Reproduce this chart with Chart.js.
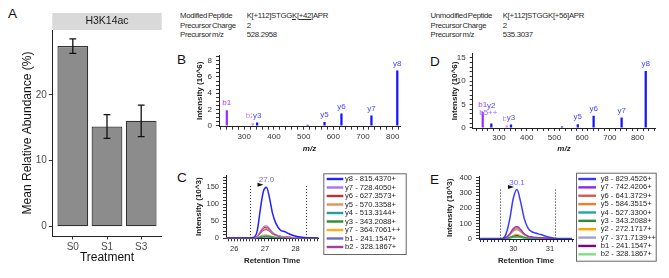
<!DOCTYPE html>
<html><head><meta charset="utf-8">
<script src="https://cdn.jsdelivr.net/npm/chart.js@4.4.1/dist/chart.umd.min.js"></script>
<style>
html,body{margin:0;padding:0;background:#fff;}
body{width:669px;height:278px;position:relative;overflow:hidden;font-family:'Liberation Sans',Arial,sans-serif;}
canvas{position:absolute;display:block;}
.hd{position:absolute;white-space:nowrap;font-size:7.8px;letter-spacing:-0.3px;word-spacing:-1px;color:#2a2a2a;line-height:1;}
.pl{position:absolute;font-size:13.5px;color:#111;line-height:1;}
u{text-decoration:underline;text-underline-offset:1px;}
</style></head><body>
<div class="pl" style="left:8px;top:7px">A</div>
<div class="pl" style="left:177px;top:53px">B</div>
<div class="pl" style="left:177px;top:171px">C</div>
<div class="pl" style="left:430px;top:54.5px">D</div>
<div class="pl" style="left:430px;top:172.5px">E</div>

<div class="hd" style="left:180px;top:11.6px">Modified Peptide</div>
<div class="hd" style="left:180px;top:21.6px">Precursor Charge</div>
<div class="hd" style="left:180px;top:30.6px">Precursor m/z</div>
<div class="hd" style="left:246.7px;top:11.6px">K[+112]STGG<u>K[+42]</u>APR</div>
<div class="hd" style="left:246.7px;top:21.6px">2</div>
<div class="hd" style="left:246.7px;top:30.6px">528.2958</div>

<div class="hd" style="left:430.5px;top:11.6px">Unmodified Peptide</div>
<div class="hd" style="left:430.5px;top:21.6px">Precursor Charge</div>
<div class="hd" style="left:430.5px;top:30.6px">Precursor m/z</div>
<div class="hd" style="left:502.7px;top:11.6px">K[+112]STGGK[+56]APR</div>
<div class="hd" style="left:502.7px;top:21.6px">2</div>
<div class="hd" style="left:502.7px;top:30.6px">535.3037</div>

<canvas id="cA" width="170" height="278" style="left:0px;top:0px;width:170px;height:278px"></canvas>
<canvas id="cB" width="230" height="112" style="left:175px;top:45px;width:230px;height:112px"></canvas>
<canvas id="cD" width="225" height="112" style="left:440px;top:45px;width:225px;height:112px"></canvas>
<canvas id="cC" width="235" height="110" style="left:175px;top:165px;width:235px;height:110px"></canvas>
<canvas id="cE" width="235" height="110" style="left:430px;top:165px;width:235px;height:110px"></canvas>

<script>
// ---------------- DATA ----------------
const treatments = ['S0', 'S1', 'S3'];
const abundance = [27.4, 15.2, 16.05];
const abundanceErr = [1.1, 1.8, 2.4];

const specB_mz  = [241.15, 328.19, 343.21, 513.31, 570.34, 627.36, 728.41, 815.44];
const specB_int = [1.85, 0.25, 0.35, 0.06, 0.4, 1.45, 1.2, 6.75];
const specB_ion = ['b1', 'b2', 'y3', 'y4', 'y5', 'y6', 'y7', 'y8'];
const specB_labels = ['b1', 'b2', 'y3', 'y5', 'y6', 'y7', 'y8'];
const specB_labelPeak = [0, 1, 2, 4, 5, 6, 7];

const specD_mz  = [241.15, 272.17, 328.19, 343.21, 527.33, 584.35, 641.37, 742.42, 829.45];
const specD_int = [3.3, 0.85, 0.4, 0.6, 0.2, 0.65, 2.5, 2.1, 12.1];
const specD_ion = ['b1', 'y2', 'b2', 'y3', 'y4', 'y5', 'y6', 'y7', 'y8'];
const specD_labels = ['b1', 'y2', 'b5++', 'b2', 'y3', 'y5', 'y6', 'y7', 'y8'];
const specD_labelPeak = [0, 1, 1, 2, 3, 5, 6, 7, 8];

const cTimes = [25.75, 26.5, 26.65, 26.75, 26.85, 26.95, 27.05, 27.15, 27.25, 27.35, 27.5, 27.65, 27.8, 27.95, 28.15, 28.4, 28.75];
const cIons = ['y8', 'y7', 'y6', 'y5', 'y4', 'y3', 'y7', 'b1', 'b2'];
const cMz = ['815.4370+', '728.4050+', '627.3573+', '570.3358+', '513.3144+', '343.2088+', '364.7061++', '241.1547+', '328.1867+'];
const cY8  = [0.5, 0.5, 3, 22, 85, 138, 150, 118, 72, 45, 24, 19, 12, 7, 3, 1, 0.5];
const cY7  = [0.2, 0.2, 0.7, 5.3, 20, 33, 36, 28, 17, 11, 5.8, 4.5, 2.9, 1.7, 0.7, 0.3, 0.2];
const cY6  = [0.2, 0.2, 0.6, 4.7, 18, 29.5, 32, 25, 15.5, 9.6, 5.1, 4, 2.6, 1.5, 0.6, 0.2, 0.2];
const cY5  = [0.2, 0.2, 0.5, 4.1, 15.8, 25.7, 28, 22, 13.4, 8.4, 4.5, 3.5, 2.2, 1.3, 0.6, 0.2, 0.2];
const cY4  = [0.1, 0.1, 0.1, 1, 4, 6.4, 7, 5.5, 3.4, 2.1, 1.1, 0.9, 0.6, 0.3, 0.1, 0, 0];
const cY3  = [0, 0, 0.1, 0.7, 2.5, 4.1, 4.5, 3.5, 2.2, 1.4, 0.7, 0.6, 0.4, 0.2, 0.1, 0, 0];
const cY7b = [0.1, 0.1, 0.2, 1.5, 5.7, 9.2, 10, 7.9, 4.8, 3, 1.6, 1.3, 0.8, 0.5, 0.2, 0.1, 0.1];
const cB1  = [0, 0, 0.1, 0.4, 1.7, 2.8, 3, 2.4, 1.4, 0.9, 0.5, 0.4, 0.2, 0.1, 0.1, 0, 0];
const cB2  = [0.2, 0.2, 0.5, 3.7, 14, 23, 25, 19.7, 12, 7.5, 4, 3.2, 2, 1.2, 0.5, 0.2, 0.2];
const cBounds = [26.52, 28.33];
const cPeakLabel = '27.0';

const eTimes = [29.1, 29.6, 29.72, 29.8, 29.9, 30.0, 30.1, 30.2, 30.3, 30.4, 30.5, 30.6, 30.75, 30.9, 31.05, 31.2, 31.6];
const eIons = ['y8', 'y7', 'y6', 'y5', 'y4', 'y3', 'y2', 'y7', 'b1', 'b2'];
const eMz = ['829.4526+', '742.4206+', '641.3729+', '584.3515+', '527.3300+', '343.2088+', '272.1717+', '371.7139++', '241.1547+', '328.1867+'];
const eY8  = [1, 1, 3, 30, 125, 265, 322, 240, 130, 70, 46, 37, 27, 15, 6, 2, 1];
const eY7  = [0.3, 0.3, 0.8, 7.6, 32, 67, 82, 61, 33, 18, 11.7, 9.4, 6.9, 3.8, 1.5, 0.5, 0.3];
const eY6  = [0.3, 0.3, 0.7, 7, 29, 62, 75, 56, 30, 16.3, 10.7, 8.6, 6.3, 3.5, 1.4, 0.5, 0.3];
const eY5  = [0.2, 0.2, 0.6, 6.1, 25.6, 54, 66, 49, 26.6, 14.3, 9.4, 7.6, 5.5, 3.1, 1.2, 0.4, 0.2];
const eY4  = [0.1, 0.1, 0.1, 1.1, 4.7, 9.9, 12, 9, 4.8, 2.6, 1.7, 1.4, 1, 0.6, 0.2, 0.1, 0.1];
const eY3  = [0.1, 0.1, 0.2, 1.7, 7, 14.8, 18, 13.4, 7.3, 3.9, 2.6, 2.1, 1.5, 0.8, 0.3, 0.1, 0.1];
const eY2  = [0.1, 0.1, 0.3, 2.6, 10.9, 23, 28, 20.9, 11.3, 6.1, 4, 3.2, 2.3, 1.3, 0.5, 0.2, 0.1];
const eY7b = [0.2, 0.2, 0.5, 5.4, 22.5, 47.7, 58, 43.2, 23.4, 12.6, 8.3, 6.7, 4.9, 2.7, 1.1, 0.4, 0.2];
const eB1  = [0.1, 0.1, 0.2, 2, 8.5, 18, 22, 16.4, 8.9, 4.8, 3.2, 2.5, 1.8, 1, 0.4, 0.1, 0.1];
const eB2  = [0, 0, 0.1, 0.7, 3.1, 6.6, 8, 6, 3.2, 1.7, 1.2, 0.9, 0.7, 0.4, 0.2, 0, 0];
const eBounds = [29.65, 31.13];
const ePeakLabel = '30.1';

// ---------------- STYLE / HELPERS ----------------
const FAM = "'Liberation Sans', Arial, sans-serif";
Chart.defaults.font.family = FAM;
Chart.defaults.color = '#333';
const isMult = (v, m) => Math.abs(v / m - Math.round(v / m)) < 1e-6;

function linAxis(o) {
  return {
    type: 'linear', min: o.min, max: o.max, offset: false,
    afterFit: s => { if (o.horizontal) s.height = o.size; else s.width = o.size; },
    ticks: {
      stepSize: o.minor, includeBounds: false, autoSkip: false, maxRotation: 0, minRotation: 0,
      padding: o.tickPad, color: o.labelColor || '#333', font: { size: o.labelSize },
      callback: o.cb || (v => isMult(v, o.major) ? String(Math.round(v)) : '')
    },
    grid: { display: true, offset: false, drawOnChartArea: false, drawTicks: true, tickLength: o.tickLen, color: '#333', lineWidth: 1 },
    border: { display: true, color: '#222', width: 1 },
    title: { display: true, text: o.title, font: o.titleFont, color: o.titleColor || '#222', padding: o.titlePad }
  };
}

const errorBarPlugin = {
  id: 'errorBars',
  afterDatasetsDraw(chart, args, opts) {
    const { ctx, scales: { x, y } } = chart;
    const d = chart.data.datasets[0].data;
    ctx.save(); ctx.strokeStyle = '#111'; ctx.lineWidth = 1.3;
    d.forEach((p, i) => {
      const xc = x.getPixelForValue(p.x);
      const hw = Math.abs(x.getPixelForValue(p.x + opts.cap) - xc);
      const yt = y.getPixelForValue(p.y + opts.errors[i]);
      const yb = y.getPixelForValue(p.y - opts.errors[i]);
      ctx.beginPath();
      ctx.moveTo(xc, yt); ctx.lineTo(xc, yb);
      ctx.moveTo(xc - hw, yt); ctx.lineTo(xc + hw, yt);
      ctx.moveTo(xc - hw, yb); ctx.lineTo(xc + hw, yb);
      ctx.stroke();
    });
    ctx.restore();
  }
};

const stripPlugin = {
  id: 'strip',
  afterDraw(chart, args, opts) {
    const { ctx, chartArea: a } = chart;
    ctx.save();
    ctx.fillStyle = '#d9d9d9';
    ctx.fillRect(a.left, a.top - opts.h, a.right - a.left, opts.h);
    ctx.fillStyle = '#1a1a1a'; ctx.font = '10.5px ' + FAM;
    ctx.textAlign = 'center'; ctx.textBaseline = 'middle';
    ctx.fillText(opts.text, (a.left + a.right) / 2, a.top - opts.h / 2);
    ctx.restore();
  }
};

const peakLabelPlugin = {
  id: 'peakLabels',
  afterDatasetsDraw(chart, args, opts) {
    const { ctx, scales: { x, y } } = chart;
    const d = chart.data.datasets[0].data;
    ctx.save(); ctx.font = '8px ' + FAM; ctx.textAlign = 'center'; ctx.textBaseline = 'middle';
    opts.text.forEach((t, i) => {
      const p = d[opts.peak[i]];
      const st = opts.style[i] || {};
      const cx = x.getPixelForValue(p.x) + (st.dx || 0);
      const cy = y.getPixelForValue(p.y) - 7.5 + (st.dy || 0);
      if (st.bg) {
        const w = ctx.measureText(t).width;
        ctx.fillStyle = '#fff'; ctx.fillRect(cx - w / 2 - 0.5, cy - 4.5, w + 1, 9);
      }
      ctx.fillStyle = labelColor(t);
      ctx.fillText(t, cx, cy);
    });
    ctx.restore();
  }
};

const chromPlugin = {
  id: 'chrom',
  afterDatasetsDraw(chart, args, opts) {
    const { ctx, scales: { x, y } } = chart;
    const d = chart.data.datasets[0].data, t = chart.data.labels;
    let mi = 0; d.forEach((v, i) => { if (v > d[mi]) mi = i; });
    const ax = x.getPixelForValue(t[mi]), ay = y.getPixelForValue(d[mi]);
    ctx.save();
    ctx.strokeStyle = '#444'; ctx.lineWidth = 1; ctx.setLineDash([1.2, 1.8]);
    opts.bounds.forEach(b => {
      const bx = Math.round(x.getPixelForValue(b)) + 0.5;
      ctx.beginPath(); ctx.moveTo(bx, y.getPixelForValue(0)); ctx.lineTo(bx, y.getPixelForValue(d[mi] * 1.04)); ctx.stroke();
    });
    ctx.setLineDash([]);
    ctx.fillStyle = '#111';
    ctx.beginPath(); ctx.moveTo(ax - 9, ay - 4.5); ctx.lineTo(ax - 3, ay - 2.5); ctx.lineTo(ax - 9, ay - 0.5); ctx.closePath(); ctx.fill();
    ctx.fillStyle = '#6a6aff'; ctx.font = '8px ' + FAM; ctx.textAlign = 'center'; ctx.textBaseline = 'middle';
    ctx.fillText(opts.label, ax, ay - 7);
    ctx.restore();
  },
  afterDraw(chart, args, opts) {
    const ctx = chart.ctx, L = opts.legend;
    ctx.save();
    ctx.strokeStyle = '#666'; ctx.lineWidth = 1;
    ctx.strokeRect(L.x + 0.5, L.y + 0.5, L.w, L.h);
    ctx.font = '7.6px ' + FAM; ctx.textAlign = 'left'; ctx.textBaseline = 'middle';
    chart.data.datasets.forEach((ds, i) => {
      const yy = L.y + L.first + i * L.row;
      ctx.strokeStyle = ds.borderColor; ctx.lineWidth = 2.4;
      ctx.beginPath(); ctx.moveTo(L.x + L.l0, yy); ctx.lineTo(L.x + L.l1, yy); ctx.stroke();
      ctx.fillStyle = '#222';
      ctx.fillText(ds.label, L.x + L.tx, yy);
    });
    ctx.restore();
  }
};

function peakColor(ion) {
  if (ion === 'b1') return '#9b30ff';
  if (ion[0] === 'b') return '#d48cf0';
  return '#1414ff';
}
function labelColor(t) {
  if (t === 'b1') return '#a040f0';
  if (t === 'b5++') return '#9a6cff';
  if (t[0] === 'b') return '#d27ee8';
  return '#4646ff';
}

const baseOpts = { responsive: false, animation: false, devicePixelRatio: 1, events: [] };

// ---------------- PANEL A ----------------
new Chart(document.getElementById('cA'), {
  type: 'bar',
  data: {
    datasets: [{
      data: treatments.map((t, i) => ({ x: i + 1, y: abundance[i] })),
      backgroundColor: '#8c8c8c', borderColor: '#333', borderWidth: 1.2, borderSkipped: false,
      barPercentage: 0.9, categoryPercentage: 1
    }]
  },
  options: Object.assign({}, baseOpts, {
    layout: { padding: { left: 0, top: 30, right: 8.3, bottom: 0 } },
    plugins: {
      legend: { display: false }, tooltip: { enabled: false },
      errorBars: { errors: abundanceErr, cap: 0.1 },
      strip: { text: 'H3K14ac', h: 17 }
    },
    scales: {
      x: linAxis({ horizontal: true, min: 0.4, max: 3.6, minor: 1, major: 1, size: 42, tickPad: 1.5, tickLen: 3.5,
        labelSize: 10, labelColor: '#4d4d4d', cb: v => treatments[Math.round(v) - 1] || '',
        title: 'Treatment', titleFont: { size: 12 }, titleColor: '#111', titlePad: { top: 0, bottom: 12.8 } }),
      y: linAxis({ min: -1.42, max: 29.84, minor: 10, major: 10, size: 52.3, tickPad: 2, tickLen: 3.5,
        labelSize: 10, labelColor: '#4d4d4d',
        title: 'Mean Relative Abundance (%)', titleFont: { size: 12 }, titleColor: '#111', titlePad: { top: 20.8, bottom: 0 } })
    }
  }),
  plugins: [errorBarPlugin, stripPlugin]
});

// ---------------- SPECTRA ----------------
function spectrum(id, mz, inten, ions, labels, labelPeak, style, ax) {
  return new Chart(document.getElementById(id), {
    type: 'bar',
    data: {
      datasets: [{
        data: mz.map((m, i) => ({ x: m, y: inten[i] })),
        backgroundColor: ions.map(peakColor), borderWidth: 0, barThickness: 1.6, grouped: false
      }]
    },
    options: Object.assign({}, baseOpts, {
      layout: { padding: ax.pad },
      plugins: { legend: { display: false }, tooltip: { enabled: false },
        peakLabels: { text: labels, peak: labelPeak, style: style } },
      scales: {
        x: linAxis({ horizontal: true, min: ax.xmin, max: ax.xmax, minor: 20, major: 100, size: ax.xh, tickPad: 2.3, tickLen: 3,
          labelSize: 8, title: 'm/z', titleFont: { size: 8, weight: 'bold', style: 'italic' }, titlePad: { top: 0, bottom: 3.2 } }),
        y: linAxis({ min: ax.ymin, max: ax.ymax, minor: ax.yminor, major: ax.ymajor, size: ax.yw, tickPad: 4, tickLen: 3,
          labelSize: 8, title: 'Intensity (10^6)', titleFont: { size: 8, weight: 'bold' }, titlePad: { top: ax.ytp, bottom: 0 } })
      }
    }),
    plugins: [peakLabelPlugin]
  });
}

spectrum('cB', specB_mz, specB_int, specB_ion, specB_labels, specB_labelPeak,
  { 1: { dx: -2.5 }, 2: { bg: true } },
  { pad: { left: 0, top: 10, right: 5, bottom: 0 }, xmin: 214.8, xmax: 824.6, xh: 30.3,
    ymin: -0.123, ymax: 8.7, yminor: 0.5, ymajor: 2, yw: 44, ytp: 20.2 });

spectrum('cD', specD_mz, specD_int, specD_ion, specD_labels, specD_labelPeak,
  { 1: { dy: -10 }, 2: { dx: -3, dy: -3 }, 4: { bg: true } },
  { pad: { left: 0, top: 8.3, right: 9.7, bottom: 0 }, xmin: 205, xmax: 864, xh: 29,
    ymin: -0.064, ymax: 15.85, yminor: 1, ymajor: 5, yw: 32.7, ytp: 10.2 });

// ---------------- CHROMATOGRAMS ----------------
const cSeries = [cY8, cY7, cY6, cY5, cY4, cY3, cY7b, cB1, cB2];
const cColors = ['#2222ff', '#a875f0', '#c03030', '#e8905a', '#2a9a9a', '#2e8b2e', '#ffae1a', '#6a6ac0', '#a040a0'];
const eSeries = [eY8, eY7, eY6, eY5, eY4, eY3, eY2, eY7b, eB1, eB2];
const eColors = ['#3a3aff', '#8a2be2', '#cd5c5c', '#f27c2c', '#20a8a0', '#2e8b2e', '#ffa500', '#a0a0c8', '#800080', '#80e080'];

function chrom(id, times, series, ions, mzs, colors, bounds, peakLabel, ax) {
  return new Chart(document.getElementById(id), {
    type: 'line',
    data: {
      labels: times,
      datasets: series.map((s, i) => ({
        label: ions[i] + ' - ' + mzs[i], data: s, borderColor: colors[i],
        borderWidth: i === 0 ? 1.5 : 1.1, pointRadius: 0, fill: false, cubicInterpolationMode: 'monotone'
      }))
    },
    options: Object.assign({}, baseOpts, {
      layout: { padding: ax.pad },
      plugins: { legend: { display: false }, tooltip: { enabled: false },
        chrom: { bounds: bounds, label: peakLabel, legend: ax.legend } },
      scales: {
        x: linAxis({ horizontal: true, min: ax.xmin, max: ax.xmax, minor: 0.1, major: 1, size: ax.xh, tickPad: 2.7, tickLen: 3,
          labelSize: 7.5, title: 'Retention Time', titleFont: { size: 7.8, weight: 'bold' }, titlePad: { top: 0, bottom: 9.6 } }),
        y: linAxis({ min: ax.ymin, max: ax.ymax, minor: ax.yminor, major: ax.ymajor, size: ax.yw, tickPad: 4, tickLen: 3,
          labelSize: 7.5, title: 'Intensity (10^3)', titleFont: { size: 8, weight: 'bold' }, titlePad: { top: ax.ytp, bottom: 0 } })
      }
    }),
    plugins: [chromPlugin]
  });
}

chrom('cC', cTimes, cSeries, cIons, cMz, cColors, cBounds, cPeakLabel,
  { pad: { left: 0, top: 10, right: 91.7, bottom: 0 }, xmin: 25.73, xmax: 28.74, xh: 36.7,
    ymin: -0.6, ymax: 186, yminor: 10, ymajor: 50, yw: 51, ytp: 19.2,
    legend: { x: 148.3, y: 8.3, w: 82.4, h: 80.7, first: 5.7, row: 8.5, l0: 3.4, l1: 20, tx: 21.7 } });

chrom('cE', eTimes, eSeries, eIons, eMz, eColors, eBounds, ePeakLabel,
  { pad: { left: 0, top: 11.7, right: 92, bottom: 0 }, xmin: 29.065, xmax: 31.626, xh: 36,
    ymin: -2, ymax: 406.5, yminor: 20, ymajor: 100, yw: 49, ytp: 15.2,
    legend: { x: 146, y: 7.7, w: 79.7, h: 88, first: 6.3, row: 8.37, l0: 2.3, l1: 20, tx: 24.7 } });
</script>
</body></html>
